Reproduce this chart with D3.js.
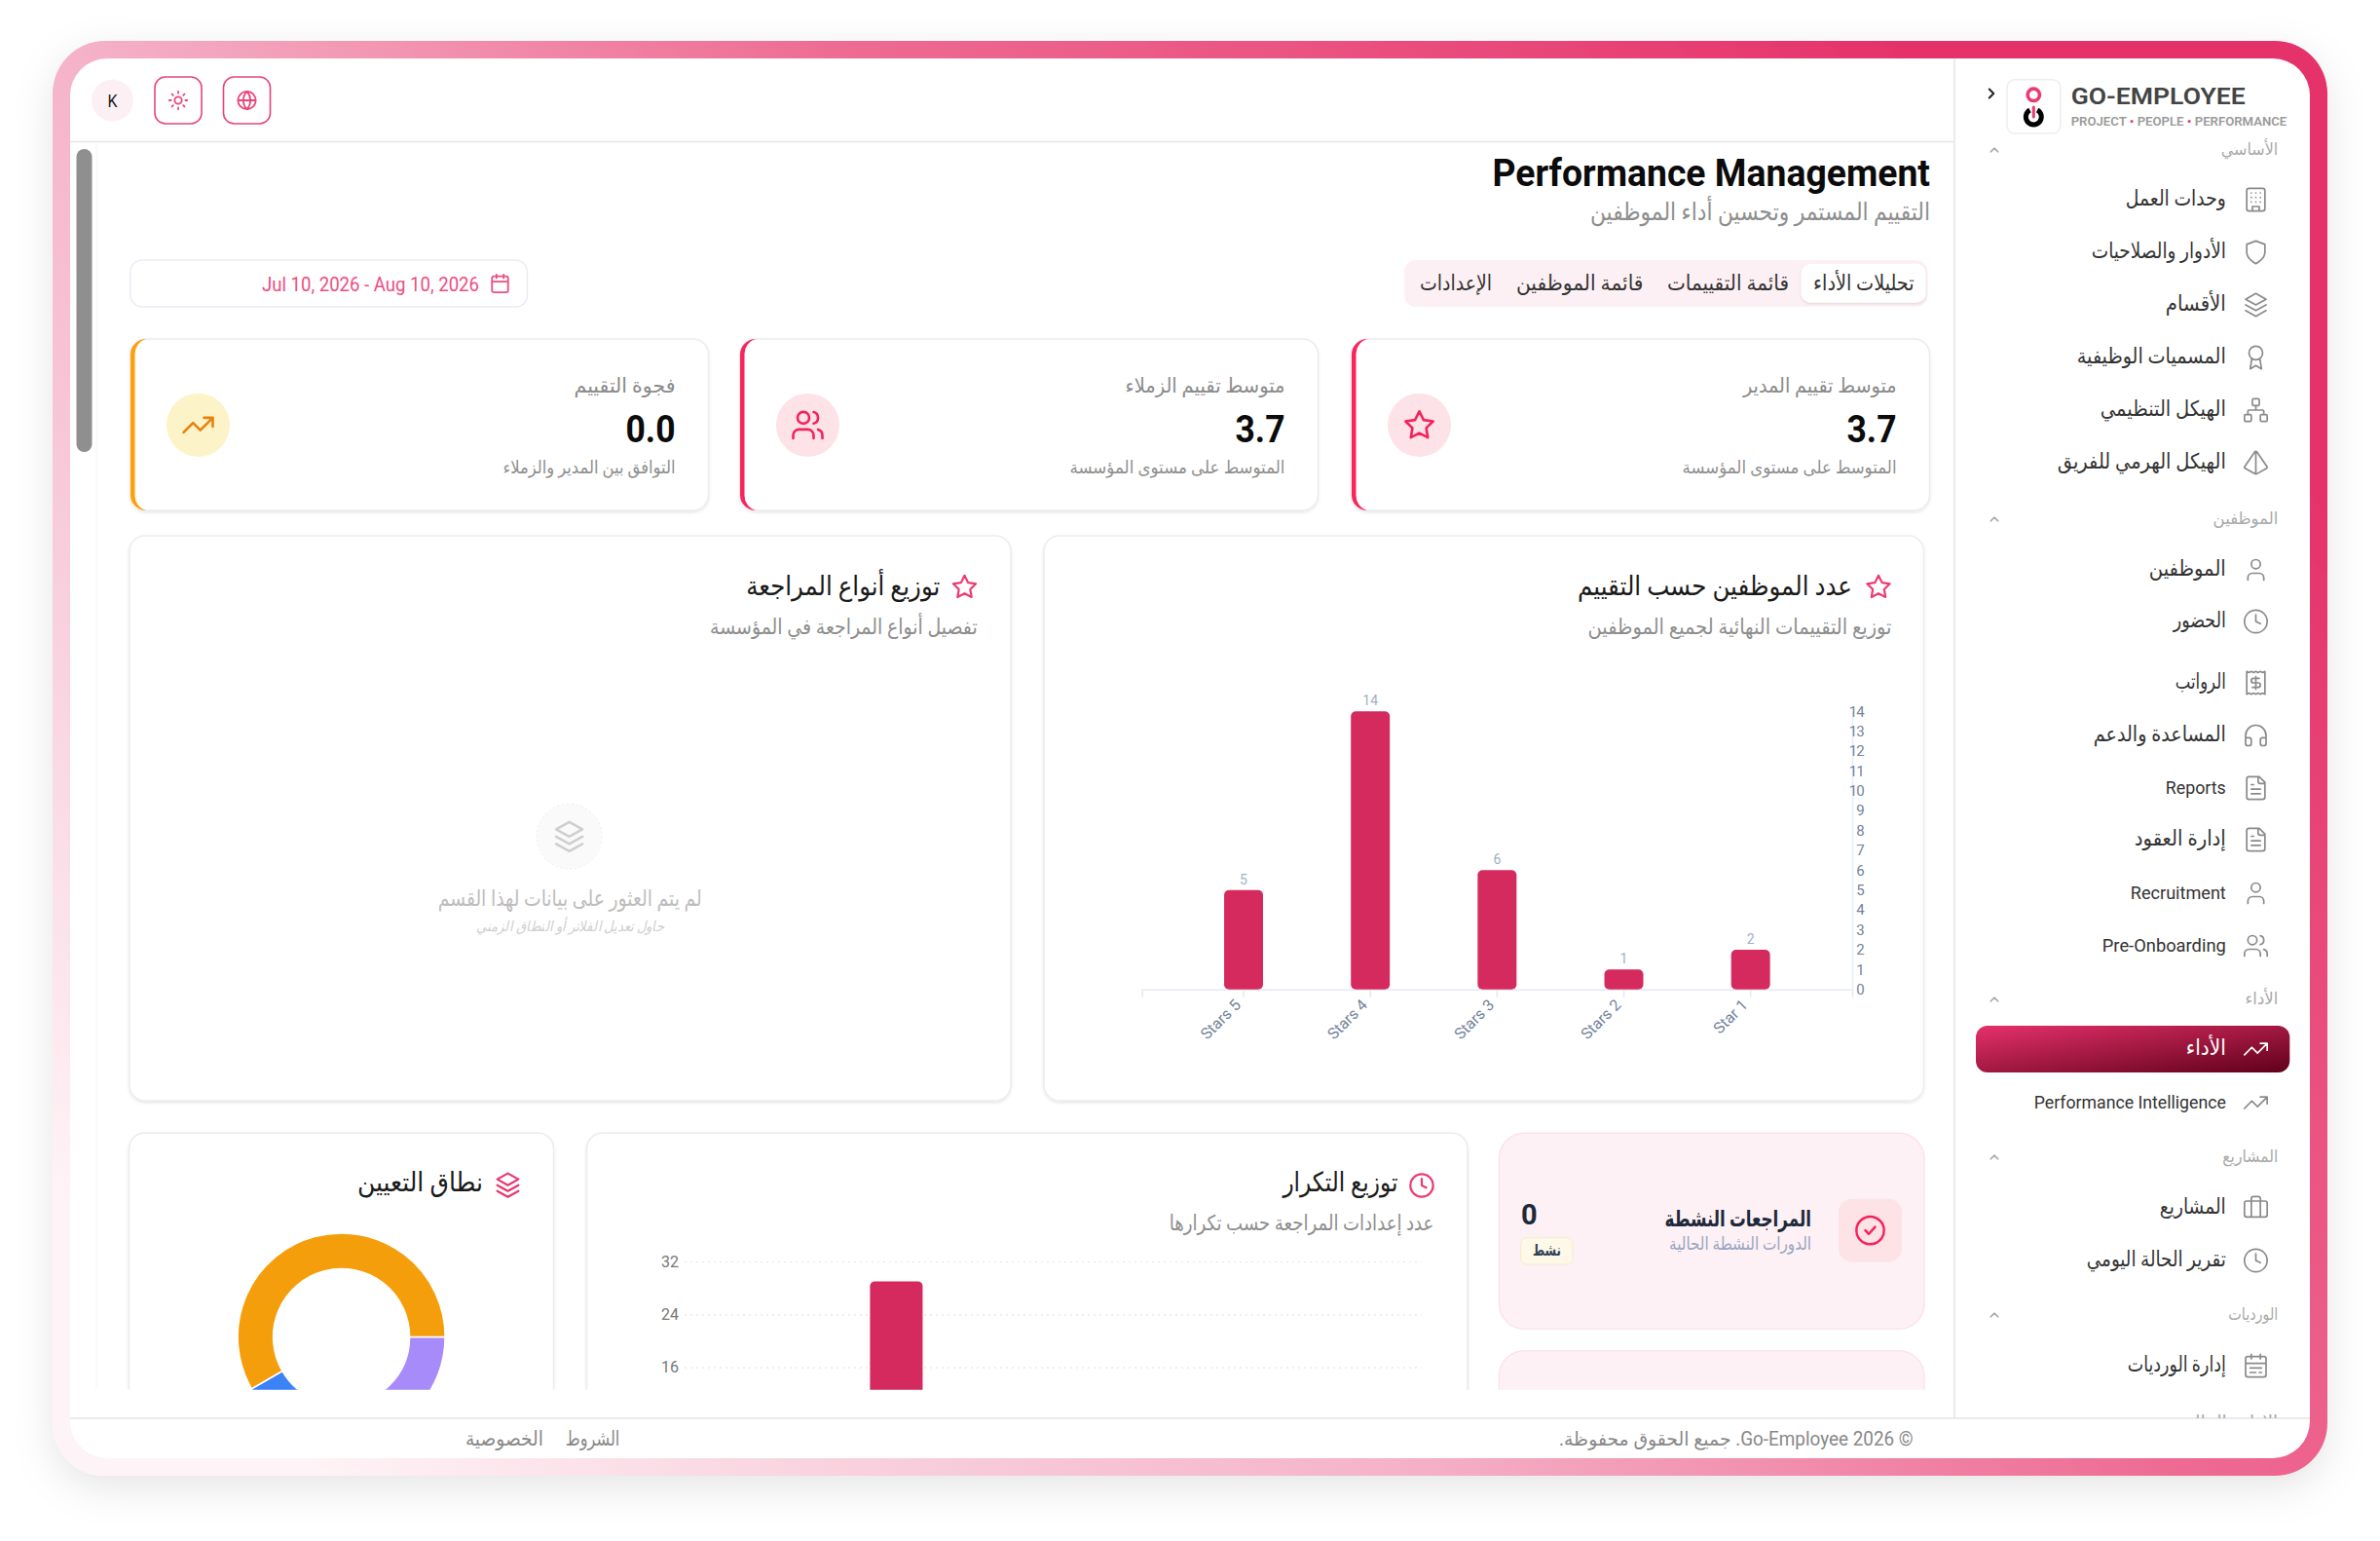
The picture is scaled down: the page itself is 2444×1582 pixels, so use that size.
<!DOCTYPE html>
<html lang="ar">
<head>
<meta charset="utf-8">
<title>Performance Management</title>
<script src="https://cdn.jsdelivr.net/npm/d3@7"></script>
<style>
  html, body { margin: 0; background: #fff; }
  svg { display: block; }
  text { font-family: Roboto, "DejaVu Sans", sans-serif; }
</style>
</head>
<body>
<div id="app"></div>
<script>
// chart data
const ratingLabels = ['Stars 5', 'Stars 4', 'Stars 3', 'Stars 2', 'Star 1'];
const ratingCounts = [5, 14, 6, 1, 2];
const ratingTicks = [0, 1, 2, 3, 4, 5, 6, 7, 8, 9, 10, 11, 12, 13, 14];

const frequencyKeys = ['first', 'second'];
const frequencyValues = [29, 3];
const frequencyTicks = [0, 8, 16, 24, 32];

const scopeValues = [3, 2, 7];
const scopeColors = ['#a78bfa', '#3b82f6', '#f59e0b'];

// stat cards
const statTitles = ['متوسط تقييم المدير', 'متوسط تقييم الزملاء', 'فجوة التقييم'];
const statValues = ['3.7', '3.7', '0.0'];
const statNotes = ['المتوسط على مستوى المؤسسة', 'المتوسط على مستوى المؤسسة', 'التوافق بين المدير والزملاء'];

const tabLabels = ['تحليلات الأداء', 'قائمة التقييمات', 'قائمة الموظفين', 'الإعدادات'];

// sidebar
const navSections = ['الأساسي', 'الموظفين', 'الأداء', 'المشاريع', 'الورديات', 'الإدارة المالية'];
const navLabels = [
  'وحدات العمل', 'الأدوار والصلاحيات', 'الأقسام', 'المسميات الوظيفية', 'الهيكل التنظيمي', 'الهيكل الهرمي للفريق',
  'الموظفين', 'الحضور', 'الرواتب', 'المساعدة والدعم', 'Reports', 'إدارة العقود', 'Recruitment', 'Pre-Onboarding',
  'الأداء', 'Performance Intelligence',
  'المشاريع', 'تقرير الحالة اليومي',
  'إدارة الورديات'
];
const navIcons = [
  'building', 'shield', 'layers', 'award', 'network', 'pyramid',
  'user', 'clock', 'receipt', 'headphones', 'file', 'file', 'user', 'users',
  'trending', 'trending',
  'luggage', 'clock',
  'calendarDays'
];

const sectionY = [154, 533, 1026, 1188, 1350, 1460];
const sectionW = [58.6, 66.7, 33.7, 57, 51, 101];
const navY = [205, 259, 313, 367, 421, 475, 585, 638, 701, 755, 809, 862, 917, 971, 1077, 1132, 1240, 1294, 1402];
const navW = [103, 138, 62, 153, 129, 173, 79, 54, 52, 136, 62, 94, 98, 127, 41, 197, 68, 143, 101];

const circ = (x, y, r) => `M${x - r} ${y}a${r} ${r} 0 1 0 ${2 * r} 0a${r} ${r} 0 1 0 ${-2 * r} 0`;
const box = (x, y, w, h, r) => `M${x + r} ${y}h${w - 2 * r}a${r} ${r} 0 0 1 ${r} ${r}v${h - 2 * r}a${r} ${r} 0 0 1 ${-r} ${r}h${-(w - 2 * r)}a${r} ${r} 0 0 1 ${-r} ${-r}v${-(h - 2 * r)}a${r} ${r} 0 0 1 ${r} ${-r}z`;

const icons = {
  star: 'M12 2l3.09 6.26L22 9.27l-5 4.87 1.18 6.88L12 17.77l-6.18 3.25L7 14.14 2 9.27l6.91-1.01L12 2z',
  users: 'M16 21v-2a4 4 0 0 0-4-4H6a4 4 0 0 0-4 4v2' + circ(9, 7, 4) + 'M22 21v-2a4 4 0 0 0-3-3.87M16 3.13a4 4 0 0 1 0 7.75',
  user: 'M19 21v-2a4 4 0 0 0-4-4H9a4 4 0 0 0-4 4v2' + circ(12, 7, 4),
  trending: 'M22 7 13.5 15.5 8.5 10.5 2 17M16 7h6v6',
  calendar: box(3, 4, 18, 18, 2) + 'M16 2v4M8 2v4M3 10h18',
  calendarDays: box(3, 4, 18, 18, 2) + 'M16 2v4M8 2v4M3 10h18M7 14h10M7 18h5M15 18h2',
  sun: circ(12, 12, 4) + 'M12 2v2M12 20v2M4.93 4.93l1.41 1.41M17.66 17.66l1.41 1.41M2 12h2M20 12h2M6.34 17.66l-1.41 1.41M19.07 4.93l-1.41 1.41',
  globe: circ(12, 12, 10) + 'M2 12h20M12 2a15.3 15.3 0 0 1 4 10 15.3 15.3 0 0 1-4 10 15.3 15.3 0 0 1-4-10 15.3 15.3 0 0 1 4-10z',
  layers: 'M12 2 3 7l9 5 9-5-9-5zM3 17l9 5 9-5M3 12l9 5 9-5',
  shield: 'M12 22s8-4 8-10V5l-8-3-8 3v7c0 6 8 10 8 10z',
  award: circ(12, 8, 6) + 'M15.5 13 17 22l-5-3-5 3 1.5-9',
  network: box(16, 16, 6, 6, 1) + box(2, 16, 6, 6, 1) + box(9, 2, 6, 6, 1) + 'M5 16v-3a1 1 0 0 1 1-1h12a1 1 0 0 1 1 1v3M12 12V8',
  pyramid: 'M2.5 16.88a1 1 0 0 1-.32-1.43l9-13.02a1 1 0 0 1 1.64 0l9 13.01a1 1 0 0 1-.32 1.44l-8.51 4.86a2 2 0 0 1-1.98 0ZM12 2v20',
  clock: circ(12, 12, 10) + 'M12 6v6l4 2',
  receipt: 'M4 2v20l2-1 2 1 2-1 2 1 2-1 2 1 2-1 2 1V2l-2 1-2-1-2 1-2-1-2 1-2-1-2 1ZM15 8h-5a2 2 0 1 0 0 4h4a2 2 0 1 1 0 4H9M12 17.5v-11',
  headphones: 'M3 14h3a2 2 0 0 1 2 2v3a2 2 0 0 1-2 2H5a2 2 0 0 1-2-2v-7a9 9 0 0 1 18 0v7a2 2 0 0 1-2 2h-1a2 2 0 0 1-2-2v-3a2 2 0 0 1 2-2h3',
  file: 'M15 2H6a2 2 0 0 0-2 2v16a2 2 0 0 0 2 2h12a2 2 0 0 0 2-2V7ZM14 2v4a2 2 0 0 0 2 2h4M10 9H8M16 13H8M16 17H8',
  luggage: box(2, 6, 20, 14, 2) + 'M16 20V4a2 2 0 0 0-2-2h-4a2 2 0 0 0-2 2v16',
  building: box(4, 2, 16, 20, 2) + 'M9 22v-4h6v4M8 6h.01M12 6h.01M16 6h.01M8 10h.01M12 10h.01M16 10h.01M8 14h.01M12 14h.01M16 14h.01',
  check: circ(12, 12, 10) + 'M8.5 12l2.5 2.5 4.5-5',
  chevronRight: 'm9 18 6-6-6-6',
  chevronUp: 'm18 15-6-6-6 6'
};

const svg = d3.select('#app').append('svg')
  .attr('width', 2444)
  .attr('height', 1582)
  .attr('viewBox', '0 0 2444 1582');

// defs
const defs = svg.append('defs');

const frameGrad = defs.append('linearGradient')
  .attr('id', 'frameGrad')
  .attr('gradientUnits', 'userSpaceOnUse')
  .attr('x1', 2390).attr('y1', 42).attr('x2', 556).attr('y2', 1756);
[[0.12, '#e5316a'], [0.45, '#ee6c94'], [0.68, '#f5b3c9'], [0.85, '#f9d3df'], [1, '#fef3f6']].forEach(s => {
  frameGrad.append('stop').attr('offset', s[0]).attr('stop-color', s[1]);
});

const activeGrad = defs.append('linearGradient')
  .attr('id', 'activeGrad')
  .attr('x1', 0).attr('y1', 0).attr('x2', 1).attr('y2', 1);
activeGrad.append('stop').attr('offset', 0).attr('stop-color', '#e5316a');
activeGrad.append('stop').attr('offset', 1).attr('stop-color', '#5f0019');

const frameShadow = defs.append('filter').attr('id', 'frameShadow')
  .attr('x', '-5%').attr('y', '-5%').attr('width', '110%').attr('height', '115%');
frameShadow.append('feDropShadow')
  .attr('dx', 0).attr('dy', 12).attr('stdDeviation', 20)
  .attr('flood-color', '#000').attr('flood-opacity', 0.1);

const cardShadow = defs.append('filter').attr('id', 'cardShadow')
  .attr('x', '-5%').attr('y', '-5%').attr('width', '110%').attr('height', '110%');
cardShadow.append('feDropShadow')
  .attr('dx', 0).attr('dy', 1.5).attr('stdDeviation', 1.5)
  .attr('flood-color', '#000').attr('flood-opacity', 0.1);

defs.append('clipPath').attr('id', 'mainClip').append('rect')
  .attr('x', 72).attr('y', 146).attr('width', 1935).attr('height', 1280.7);
defs.append('clipPath').attr('id', 'sideClip').append('rect')
  .attr('x', 2008).attr('y', 60).attr('width', 364).attr('height', 1396);

// text helper: x is the right edge unless anchor says otherwise, w squeezes to the reference width
// the fallback arabic face runs small, so it gets taller type inside the same width
function label(parent, str, x, y, o = {}) {
  const size = o.size || 18;
  const t = parent.append('text')
    .attr('x', x)
    .attr('y', y)
    .attr('text-anchor', o.anchor || 'end')
    .attr('font-size', /[\u0600-\u06ff]/.test(str) ? size * 1.15 : size)
    .attr('font-weight', o.weight || 400)
    .attr('fill', o.fill || '#333')
    .text(str);
  if (o.w) t.attr('textLength', o.w).attr('lengthAdjust', 'spacingAndGlyphs');
  if (o.italic) t.attr('font-style', 'italic');
  if (o.dir) t.attr('direction', o.dir);
  return t;
}

function icon(parent, name, cx, cy, size, color, sw) {
  const k = size / 24;
  return parent.append('path')
    .attr('transform', `translate(${cx - size / 2},${cy - size / 2}) scale(${k})`)
    .attr('d', icons[name])
    .attr('fill', 'none')
    .attr('stroke', color)
    .attr('stroke-width', sw / k)
    .attr('stroke-linecap', 'round')
    .attr('stroke-linejoin', 'round');
}

function card(parent, x, y, w, h, r) {
  return parent.append('rect')
    .attr('x', x).attr('y', y).attr('width', w).attr('height', h).attr('rx', r)
    .attr('fill', '#fff')
    .attr('stroke', '#ececec')
    .attr('stroke-width', 1.5)
    .attr('filter', 'url(#cardShadow)');
}

// outer frame
svg.append('rect')
  .attr('x', 54).attr('y', 42).attr('width', 2336).attr('height', 1473).attr('rx', 54)
  .attr('fill', 'url(#frameGrad)')
  .attr('filter', 'url(#frameShadow)');
svg.append('rect')
  .attr('x', 72).attr('y', 60).attr('width', 2300).attr('height', 1437).attr('rx', 38)
  .attr('fill', '#fff');

// header bar
const header = svg.append('g');
header.append('line').attr('x1', 72).attr('x2', 2007).attr('y1', 145.5).attr('y2', 145.5)
  .attr('stroke', '#e3e5ea').attr('stroke-width', 1.5);
header.append('circle').attr('cx', 115.5).attr('cy', 103).attr('r', 21.5).attr('fill', '#fdf0f4');
label(header, 'K', 115.5, 110, { anchor: 'middle', size: 19, weight: 400, fill: '#222', w: 10 });
[[159, 'sun'], [229.5, 'globe']].forEach(b => {
  header.append('rect')
    .attr('x', b[0]).attr('y', 79).attr('width', 48).attr('height', 48).attr('rx', 11)
    .attr('fill', '#fff').attr('stroke', '#e8457a').attr('stroke-width', 1.6);
  icon(header, b[1], b[0] + 24, 103, 22, '#e8457a', 1.8);
});

// scrollbar
const main = svg.append('g').attr('clip-path', 'url(#mainClip)');
main.append('line').attr('x1', 99).attr('x2', 99).attr('y1', 146).attr('y2', 1426)
  .attr('stroke', '#f7f7f7').attr('stroke-width', 1.5);
main.append('rect').attr('x', 78.5).attr('y', 153).attr('width', 16).attr('height', 311).attr('rx', 8)
  .attr('fill', '#8f8f8f');

// page title
label(main, 'Performance Management', 1982, 191, { size: 38, weight: 700, fill: '#0b0b0b', w: 449.5 });
label(main, 'التقييم المستمر وتحسين أداء الموظفين', 1982, 226, { size: 22, fill: '#8e8e8e', w: 349 });

// date picker
main.append('rect').attr('x', 134).attr('y', 267).attr('width', 407.5).attr('height', 48).attr('rx', 12)
  .attr('fill', '#fff').attr('stroke', '#e8edf4').attr('stroke-width', 1.5);
label(main, 'Jul 10, 2026 - Aug 10, 2026', 492, 299, { size: 20, fill: '#ee4d80', w: 223 });
icon(main, 'calendar', 513.5, 291, 22, '#ee4d80', 1.8);

// tabs
const tabRight = [1965.6, 1837, 1687.5, 1532];
const tabW = [103.6, 125, 130.5, 74];
main.append('rect').attr('x', 1442).attr('y', 267).attr('width', 537.6).attr('height', 48).attr('rx', 12)
  .attr('fill', '#fdf0f4');
main.append('rect').attr('x', 1849.5).attr('y', 270.7).attr('width', 128).attr('height', 40).attr('rx', 10)
  .attr('fill', '#fff').attr('filter', 'url(#cardShadow)');
tabLabels.forEach((d, i) => label(main, d, tabRight[i], 298, { size: 19, fill: '#333', w: tabW[i] }));

// stat cards
const statX = [1388, 760, 134];
const statTitleW = [157.5, 164, 104];
const statNoteW = [220, 221, 177];
const statAccent = ['#f9245a', '#f9245a', '#ff9f0a'];
const statBubble = ['#fde2e7', '#fde2e7', '#fdf3c8'];
const statIconColor = ['#f5225a', '#f5225a', '#e8820c'];
const statIcons = ['star', 'users', 'trending'];
const statIconSize = [34, 36, 36];
statX.forEach((x, i) => {
  const g = main.append('g');
  const h = 176, r = 16, top = 348;
  card(g, x, top, 593.5, h, r);
  g.append('path')
    .attr('d', `M${x + r} ${top}A${r} ${r} 0 0 0 ${x} ${top + r}V${top + h - r}A${r} ${r} 0 0 0 ${x + r} ${top + h}A${r} ${r} 0 0 1 ${x + 4.5} ${top + h - r}V${top + r}A${r} ${r} 0 0 1 ${x + r} ${top}Z`)
    .attr('fill', statAccent[i]);
  const right = x + 559.5;
  label(g, statTitles[i], right, 403, { size: 18, fill: '#8a8a8a', w: statTitleW[i] });
  label(g, statValues[i], right, 453.5, { size: 38, weight: 700, fill: '#0b0b0b', w: 51 });
  label(g, statNotes[i], right, 486, { size: 16, fill: '#8f8f8f', w: statNoteW[i] });
  g.append('circle').attr('cx', x + 69.5).attr('cy', 436.4).attr('r', 32.5).attr('fill', statBubble[i]);
  icon(g, statIcons[i], x + 69.5, 436.4, statIconSize[i], statIconColor[i], 2.6);
});

// rating chart card
const ratingCard = main.append('g');
card(ratingCard, 1072, 550, 903.5, 580, 16);
icon(ratingCard, 'star', 1929, 602.5, 28, '#ee3a72', 2.2);
label(ratingCard, 'عدد الموظفين حسب التقييم', 1902, 611, { size: 24, fill: '#1a1a1a', w: 282 });
label(ratingCard, 'توزيع التقييمات النهائية لجميع الموظفين', 1942.5, 651, { size: 19, fill: '#8e8e8e', w: 312 });

const ratingX = d3.scaleBand()
  .domain(ratingLabels)
  .range([1172.7, 1902])
  .paddingInner(0.693)
  .paddingOuter(0.648);
const ratingY = d3.scaleLinear()
  .domain([0, 14])
  .range([1015.7, 730.2]);

const ratingXAxis = ratingCard.append('g')
  .attr('transform', 'translate(0,1015.7)')
  .call(d3.axisBottom(ratingX).tickSize(8).tickPadding(4));
ratingXAxis.selectAll('path, line').attr('stroke', '#e6e9f0').attr('stroke-width', 1.5);
ratingXAxis.selectAll('text')
  .attr('font-size', 16)
  .attr('fill', '#73839b')
  .attr('text-anchor', 'end')
  .attr('dx', 0)
  .attr('dy', 0)
  .attr('transform', 'translate(-2,17) rotate(-45)')
  .attr('x', 0)
  .attr('y', 0);

const ratingYAxis = ratingCard.append('g')
  .attr('transform', 'translate(1902,0)')
  .call(d3.axisRight(ratingY).tickValues(ratingTicks).tickSize(0).tickFormat(d3.format('d')));
ratingYAxis.select('path').attr('stroke', '#e8edf5').attr('stroke-width', 1.5);
ratingYAxis.selectAll('text')
  .attr('x', 12)
  .attr('text-anchor', 'end')
  .attr('font-size', 15)
  .attr('letter-spacing', -0.8)
  .attr('fill', '#73839b');

ratingCard.selectAll('rect.bar')
  .data(ratingCounts)
  .join('rect')
  .attr('class', 'bar')
  .attr('x', (d, i) => ratingX(ratingLabels[i]))
  .attr('y', d => ratingY(d))
  .attr('width', ratingX.bandwidth())
  .attr('height', d => ratingY(0) - ratingY(d))
  .attr('rx', 5)
  .attr('fill', '#d52a5e');

ratingCard.selectAll('text.value')
  .data(ratingCounts)
  .join('text')
  .attr('class', 'value')
  .attr('x', (d, i) => ratingX(ratingLabels[i]) + ratingX.bandwidth() / 2)
  .attr('y', d => ratingY(d) - 6)
  .attr('text-anchor', 'middle')
  .attr('font-size', 14)
  .attr('fill', '#9fb0c8')
  .text(d => d);

// review types card, empty state
const typesCard = main.append('g');
card(typesCard, 133, 550, 905, 580, 16);
icon(typesCard, 'star', 990.5, 602.5, 28, '#ee3a72', 2.2);
label(typesCard, 'توزيع أنواع المراجعة', 965.3, 611, { size: 24, fill: '#1a1a1a', w: 199 });
label(typesCard, 'تفصيل أنواع المراجعة في المؤسسة', 1003.7, 651, { size: 19, fill: '#8e8e8e', w: 274.6 });
typesCard.append('circle').attr('cx', 584.6).attr('cy', 858.8).attr('r', 33.5)
  .attr('fill', '#fafafa').attr('stroke', '#eee').attr('stroke-dasharray', '2 3');
icon(typesCard, 'layers', 584.6, 858.8, 36, '#cfcfcf', 2.6);
label(typesCard, 'لم يتم العثور على بيانات لهذا القسم', 720.7, 929.6, { size: 20, fill: '#bdbdbd', w: 271 });
label(typesCard, 'حاول تعديل الفلاتر أو النطاق الزمني', 681.8, 956, { size: 13, fill: '#cfcfcf', w: 192.5, italic: true });

// scope donut card
const scopeCard = main.append('g');
card(scopeCard, 132.5, 1163.3, 436, 340, 16);
icon(scopeCard, 'layers', 521.5, 1216.7, 29, '#e8356f', 2.2);
label(scopeCard, 'نطاق التعيين', 496, 1223, { size: 24, fill: '#1a1a1a', w: 129 });

const scopePie = d3.pie()
  .sort(null)
  .startAngle(Math.PI / 2)
  .endAngle(Math.PI / 2 + 2 * Math.PI);
const scopeArc = d3.arc().innerRadius(70).outerRadius(106.5);
scopeCard.append('g')
  .attr('transform', 'translate(350.6,1372.5)')
  .selectAll('path')
  .data(scopePie(scopeValues))
  .join('path')
  .attr('d', scopeArc)
  .attr('fill', (d, i) => scopeColors[i])
  .attr('stroke', '#fff')
  .attr('stroke-width', 1.5);

// frequency chart card
const freqCard = main.append('g');
card(freqCard, 602.5, 1163.3, 904.5, 340, 16);
icon(freqCard, 'clock', 1460, 1217, 28, '#ee3a72', 2.2);
label(freqCard, 'توزيع التكرار', 1435.4, 1223, { size: 24, fill: '#1a1a1a', w: 118 });
label(freqCard, 'عدد إعدادات المراجعة حسب تكرارها', 1472.4, 1263, { size: 19, fill: '#8e8e8e', w: 271.7 });

const freqX = d3.scaleBand()
  .domain(frequencyKeys)
  .range([703, 1459.6])
  .paddingInner(0.832)
  .paddingOuter(0.5917);
const freqY = d3.scaleLinear()
  .domain([0, 32])
  .range([1512.4, 1295]);

const freqAxis = freqCard.append('g')
  .attr('transform', 'translate(703,0)')
  .call(d3.axisLeft(freqY).tickValues(frequencyTicks).tickSize(-756.6).tickPadding(6));
freqAxis.select('.domain').remove();
freqAxis.selectAll('line').attr('stroke', '#e6e6e6').attr('stroke-dasharray', '2 4').attr('stroke-width', 1.2);
freqAxis.selectAll('text').attr('font-size', 16).attr('fill', '#777');

freqCard.selectAll('rect.bar')
  .data(frequencyValues)
  .join('rect')
  .attr('class', 'bar')
  .attr('x', (d, i) => freqX(frequencyKeys[i]))
  .attr('y', d => freqY(d))
  .attr('width', freqX.bandwidth())
  .attr('height', d => freqY(0) - freqY(d))
  .attr('rx', 5)
  .attr('fill', '#d52a5e');

// active reviews tiles
const tiles = main.append('g');
[[1163.3, 201], [1386.7, 120]].forEach(t => {
  tiles.append('rect')
    .attr('x', 1539.4).attr('y', t[0]).attr('width', 436.6).attr('height', t[1]).attr('rx', 26)
    .attr('fill', '#fdf1f5').attr('stroke', '#fbe3ea').attr('stroke-width', 1.5);
});
tiles.append('rect').attr('x', 1888).attr('y', 1230.7).attr('width', 65).attr('height', 65).attr('rx', 14)
  .attr('fill', '#fde2e6');
icon(tiles, 'check', 1920.5, 1263.2, 34, '#f5225a', 2.5);
label(tiles, 'المراجعات النشطة', 1860, 1259, { size: 20, weight: 700, fill: '#1e293b', w: 150.5 });
label(tiles, 'الدورات النشطة الحالية', 1860, 1283, { size: 16, fill: '#9aa5c0', w: 146 });
label(tiles, '0', 1562, 1256.7, { anchor: 'start', size: 29, weight: 700, fill: '#1e293b' });
tiles.append('rect').attr('x', 1561.7).attr('y', 1270.7).attr('width', 53.3).attr('height', 27.3).attr('rx', 6)
  .attr('fill', '#fdf8e8').attr('stroke', '#f6ecc8');
label(tiles, 'نشط', 1588.4, 1289, { anchor: 'middle', size: 14, weight: 700, fill: '#334155', w: 29 });

// footer
svg.append('line').attr('x1', 72).attr('x2', 2372).attr('y1', 1456).attr('y2', 1456)
  .attr('stroke', '#e3e5ea').attr('stroke-width', 1.5);
label(svg, 'الشروط', 636.3, 1484, { size: 18, fill: '#888', w: 55.5 });
label(svg, 'الخصوصية', 557.9, 1484, { size: 18, fill: '#888', w: 80 });
label(svg, '© Go-Employee 2026. جميع الحقوق محفوظة.', 1964.7, 1484, { anchor: 'start', dir: 'rtl', size: 17, fill: '#888', w: 363.7 });

// sidebar
svg.append('line').attr('x1', 2007).attr('x2', 2007).attr('y1', 60).attr('y2', 1456)
  .attr('stroke', '#e3e5ea').attr('stroke-width', 1.5);
const side = svg.append('g').attr('clip-path', 'url(#sideClip)');

icon(side, 'chevronRight', 2045, 96, 18, '#222', 2);
side.append('rect').attr('x', 2061).attr('y', 81.7).attr('width', 54.7).attr('height', 55.3).attr('rx', 8)
  .attr('fill', '#fff').attr('stroke', '#eee').attr('stroke-width', 1.5);
side.append('circle').attr('cx', 2088.3).attr('cy', 97.3).attr('r', 6.2)
  .attr('fill', 'none').attr('stroke', '#ea3a70').attr('stroke-width', 3.6);
side.append('path')
  .attr('d', d3.arc().innerRadius(5.5).outerRadius(10.5).startAngle(0.5).endAngle(2 * Math.PI - 0.5)())
  .attr('transform', 'translate(2088.3,120)')
  .attr('fill', '#000');
side.append('line').attr('x1', 2088.3).attr('x2', 2088.3).attr('y1', 110).attr('y2', 120)
  .attr('stroke', '#ea3a70').attr('stroke-width', 3).attr('stroke-linecap', 'round');

label(side, 'GO-EMPLOYEE', 2126.7, 107.3, { anchor: 'start', size: 24, weight: 600, fill: '#444', w: 179 });
const tagline = label(side, '', 2126.7, 129, { anchor: 'start', size: 12, weight: 600, fill: '#9a9a9a', w: 221.6 });
[['PROJECT ', '#9a9a9a'], ['• ', '#ea3a70'], ['PEOPLE ', '#9a9a9a'], ['• ', '#ea3a70'], ['PERFORMANCE', '#9a9a9a']].forEach(p => {
  tagline.append('tspan').attr('fill', p[1]).text(p[0]);
});

navSections.forEach((d, i) => {
  icon(side, 'chevronUp', 2048, sectionY[i], 15, '#aaa', 1.5);
  label(side, d, 2339.3, sectionY[i] + 4.5, { size: 15, fill: '#aaa', w: sectionW[i] });
});

side.append('rect').attr('x', 2029).attr('y', 1053).attr('width', 322.3).attr('height', 48).attr('rx', 12)
  .attr('fill', 'url(#activeGrad)');

navLabels.forEach((d, i) => {
  const active = i === 14;
  icon(side, navIcons[i], 2316.5, navY[i], 28, active ? '#fff' : '#8a8a8a', 1.7);
  label(side, d, 2285.8, navY[i] + 6, { size: 19, fill: active ? '#fff' : '#333', w: navW[i] });
});
</script>
</body>
</html>
